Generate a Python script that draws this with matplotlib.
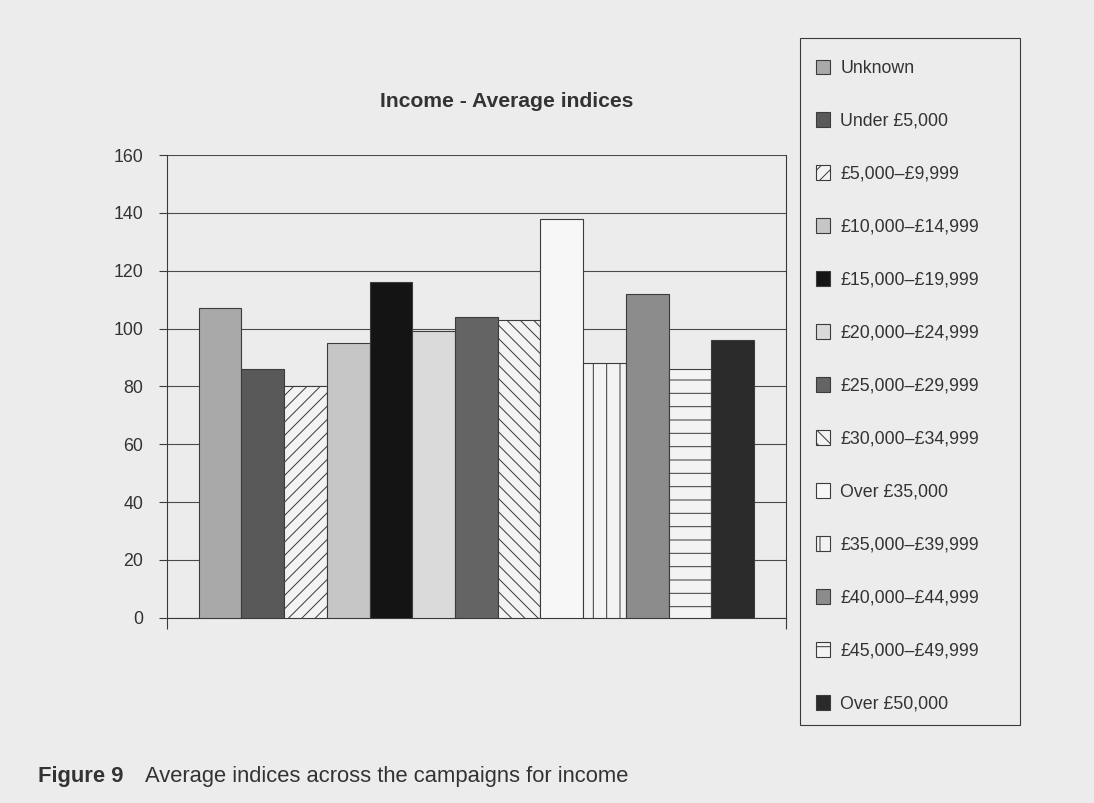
import matplotlib
matplotlib.use("Agg")
import matplotlib.pyplot as plt
from matplotlib.patches import Rectangle

categories = ["Unknown", "Under £5,000", "£5,000–£9,999", "£10,000–£14,999",
              "£15,000–£19,999", "£20,000–£24,999", "£25,000–£29,999",
              "£30,000–£34,999", "Over £35,000", "£35,000–£39,999",
              "£40,000–£44,999", "£45,000–£49,999", "Over £50,000"]
values = [107, 86, 80, 95, 116, 99, 104, 103, 138, 88, 112, 86, 96]
yticks = [0, 20, 40, 60, 80, 100, 120, 140, 160]

colors = ["#a9a9a9", "#595959", "#f3f3f3", "#c6c6c6", "#141414", "#dadada",
          "#646464", "#f3f3f3", "#f7f7f7", "#f3f3f3", "#8c8c8c", "#f3f3f3", "#2a2a2a"]
hatches = [None, None, "//", None, None, None, None, "\\\\", None, "|", None, "-", None]

plt.rcParams["font.family"] = ["Liberation Sans", "DejaVu Sans"]
plt.rcParams["hatch.linewidth"] = 0.9

BG = "#ececec"
DPI = 80
W, H = 1094, 803
fig = plt.figure(figsize=(W / DPI, H / DPI), dpi=DPI, facecolor=BG)
ax = fig.add_axes([0.1524, 0.2308, 0.5661, 0.5761])
ax.set_facecolor(BG)

edge = "#3c3c3c"
bars = []
for i, (c, v, col, h) in enumerate(zip(categories, values, colors, hatches)):
    b = ax.bar(i, v, width=1.0, color=col, edgecolor=edge, linewidth=1.0,
               hatch=h, label=c, zorder=3)
    bars.append(b)

ax.set_xlim(-1.25, 13.25)
ax.set_ylim(0, 160)
ax.set_yticks(yticks)
ax.set_xticks([-1.25, 13.25])
ax.set_xticklabels(["", ""])
ax.yaxis.grid(True, color="#4a4a4a", linewidth=1.0, zorder=0)
ax.set_axisbelow(True)
for s in ["left", "right", "bottom"]:
    ax.spines[s].set_color("#3a3a3a")
    ax.spines[s].set_linewidth(1.0)
ax.spines["top"].set_visible(False)
ax.tick_params(axis="y", direction="out", length=7.5, width=1.0, color="#3a3a3a",
               labelsize=16, labelcolor="#333333", pad=13.5)
ax.tick_params(axis="x", direction="out", length=10, width=1.0, color="#3a3a3a")

fig.text(0.4634, 0.874, "Income - Average indices", ha="center", va="center",
         fontsize=19, fontweight="bold", color="#333333")

fig.text(0.0347, 0.0324, "Figure 9", ha="left", va="center", fontsize=19.8,
         fontweight="bold", color="#333333")
fig.text(0.1325, 0.0324, "Average indices across the campaigns for income",
         ha="left", va="center", fontsize=19.8, color="#333333")

# legend frame
fig.patches.append(Rectangle((800 / W, 1 - 725 / H), 220 / W, 687 / H,
                             transform=fig.transFigure, facecolor=BG,
                             edgecolor="#3a3a3a", linewidth=1.0, zorder=0))

leg = fig.legend(handles=bars, labels=categories, loc="upper left",
                 bbox_to_anchor=(794 / W, 1 - 38 / H),
                 borderaxespad=0, fontsize=16, frameon=False,
                 handlelength=0.8, handleheight=0.9, handletextpad=0.6,
                 labelspacing=1.993, borderpad=1.21, labelcolor="#333333")

fig.savefig("out.png", dpi=DPI, facecolor=BG)
